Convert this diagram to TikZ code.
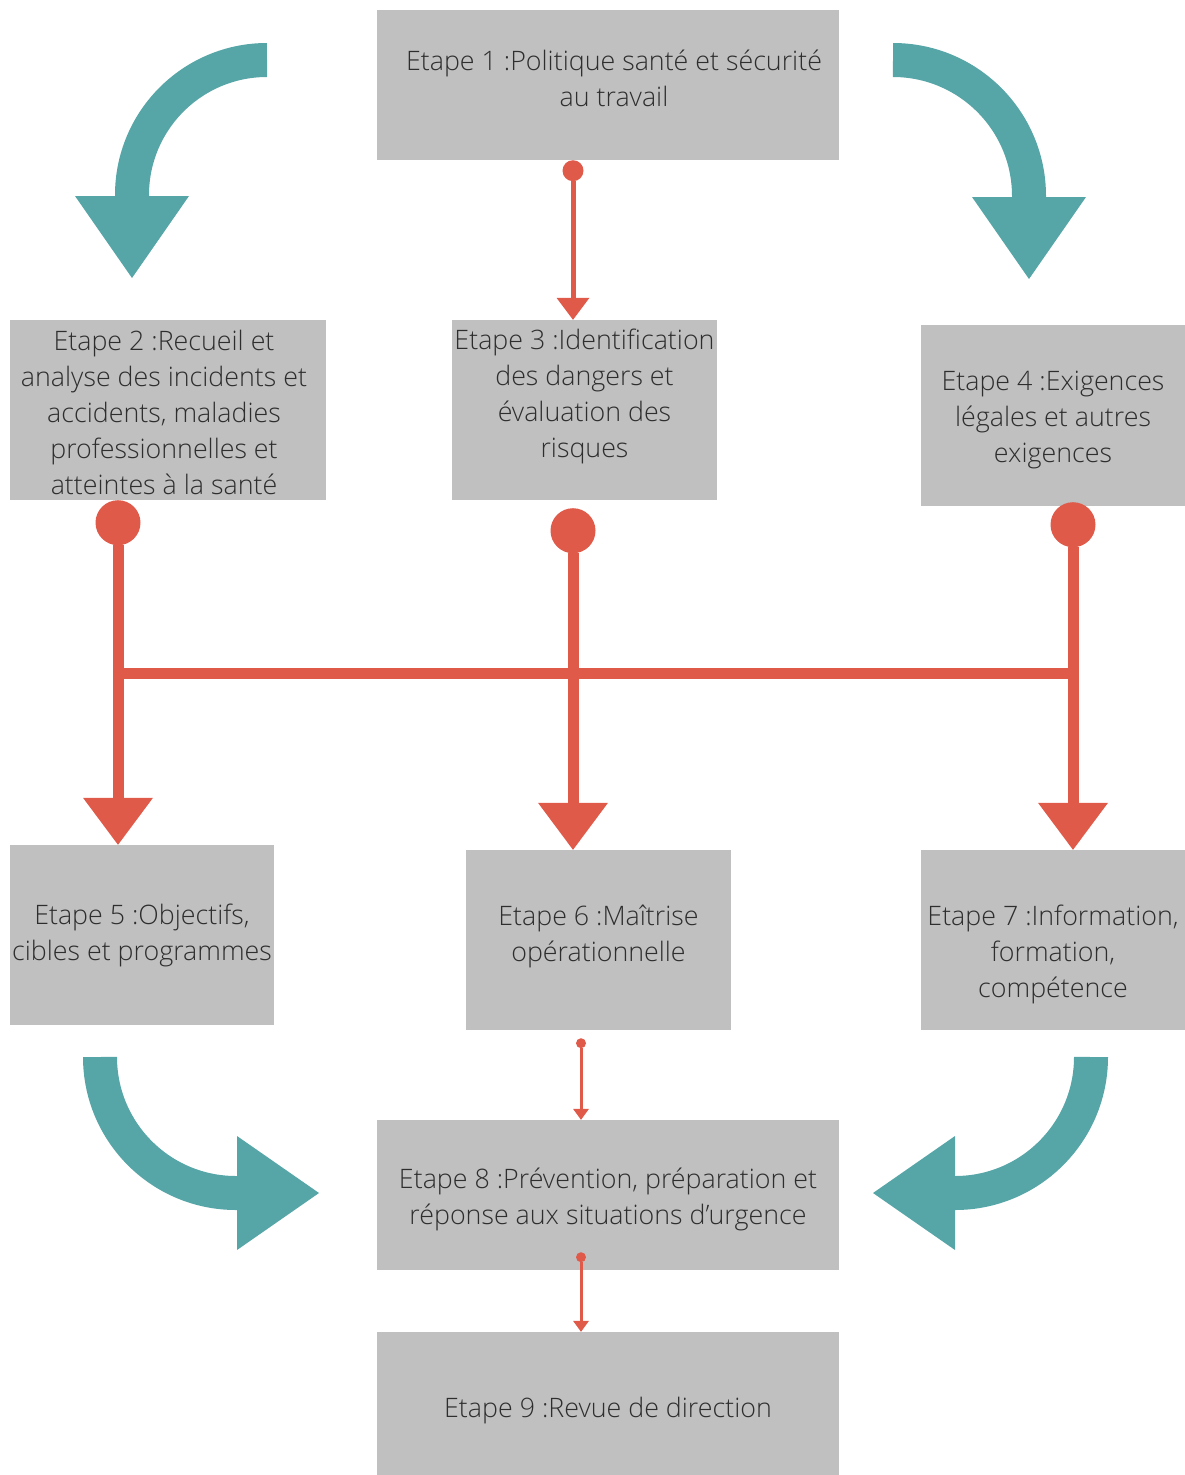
\documentclass[tikz,border=0pt]{standalone}
\usepackage{fontspec}
\setmainfont{Open Sans Light}
\usepackage{tikz}
\usetikzlibrary{positioning, arrows.meta}
\definecolor{boxgray}{HTML}{C0C0C0}
\definecolor{txtgray}{HTML}{2E2E2E}
\definecolor{teal}{HTML}{56A5A7}
\definecolor{redline}{HTML}{E05A4A}

\begin{document}
\begin{tikzpicture}[
  x=1pt, y=-1pt,
  stepbox/.style={rectangle, fill=boxgray, inner sep=0pt},
  steptext/.style={inner sep=0pt, align=center, text=txtgray, font=\fontsize{26.8}{36}\selectfont},
  turn/.style={draw=teal, line width=34pt, -{Triangle[width=114pt, length=82pt, line width=0pt]}},
  biglink/.style={draw=redline, line width=11pt, {Circle[length=45pt, line width=0pt]}-{Triangle[width=70pt, length=47pt, line width=0pt]}},
  midlink/.style={draw=redline, line width=5pt, {Circle[length=21pt, line width=0pt]}-{Triangle[width=33pt, length=22pt, line width=0pt]}},
  smalllink/.style={draw=redline, line width=3pt, {Circle[length=10pt, line width=0pt]}-{Triangle[width=16pt, length=11pt, line width=0pt]}},
  bar/.style={draw=redline, line width=11pt}
]
\useasboundingbox (0,0) rectangle (1185,1475);
\node[stepbox, minimum width=462pt, minimum height=150pt,
  label={[steptext, xshift=6pt, yshift=7pt]center:{Etape 1 :Politique santé et sécurité\\au travail}}] (b1) at (608,85) {};
\node[stepbox, minimum width=316pt, minimum height=180pt,
  label={[steptext, xshift=-4pt, yshift=-2pt]center:{Etape 2 :Recueil et\\analyse des incidents et\\accidents, maladies\\professionnelles et\\atteintes à la santé}}] (b2) at (168,410) {};
\node[stepbox, minimum width=265pt, minimum height=180pt,
  label={[steptext, yshift=14pt]center:{Etape 3 :Identification\\des dangers et\\évaluation des\\risques}}] (b3) at (584.5,410) {};
\node[stepbox, minimum width=264pt, minimum height=181pt,
  label={[steptext, yshift=-4pt]center:{Etape 4 :Exigences\\légales et autres\\exigences}}] (b4) at (1053,415.5) {};
\node[stepbox, minimum width=264pt, minimum height=180pt,
  label={[steptext]center:{Etape 5 :Objectifs,\\cibles et programmes}}] (b5) at (142,935) {};
\node[stepbox, minimum width=265pt, minimum height=180pt,
  label={[steptext, yshift=4pt]center:{Etape 6 :Maîtrise\\opérationnelle}}] (b6) at (598.5,940) {};
\node[stepbox, minimum width=264pt, minimum height=180pt,
  label={[steptext, yshift=-14pt]center:{Etape 7 :Information,\\formation,\\compétence}}] (b7) at (1053,940) {};
\node[stepbox, minimum width=462pt, minimum height=150pt,
  label={[steptext, yshift=-4pt]center:{Etape 8 :Prévention, préparation et\\réponse aux situations d’urgence}}] (b8) at (608,1195) {};
\node[stepbox, minimum width=462pt, minimum height=143pt,
  label={[steptext, yshift=-7pt]center:{Etape 9 :Revue de direction}}] (b9) at (608,1403.5) {};

\coordinate (x2) at (118,0);
\coordinate (x3) at (573,0);
\coordinate (x4) at (1073,0);
\coordinate (x8) at (581,0);
\coordinate (jl) at (118,673);
\coordinate (jr) at (1073,673);

\draw[turn] (267,60) arc[start angle=-90, end angle=-180, radius=135] -- ++(0,83);
\draw[turn] (893,60) arc[start angle=-90, end angle=0, radius=136] -- ++(0,83);
\draw[turn] (100,1057) arc[start angle=180, end angle=90, radius=136] -- ++(83,0);
\draw[turn] (1091,1057) arc[start angle=0, end angle=90, radius=136] -- ++(-82,0);

\draw[midlink] (b1.south -| x3) -- (b3.north -| x3);
\draw[bar] (jl) -- (jr);
\draw[biglink] (b2.south -| x2) -- (b5.north -| x2);
\draw[biglink] ([yshift=-8pt]b3.south -| x3) -- (b6.north -| x3);
\draw[biglink] ([yshift=4pt]b4.south -| x4) -- (b7.north -| x4);
\draw[smalllink] ([yshift=-8pt]b6.south -| x8) -- (b8.north -| x8);
\draw[smalllink] ([yshift=18pt]b8.south -| x8) -- (b9.north -| x8);
\end{tikzpicture}
\end{document}
